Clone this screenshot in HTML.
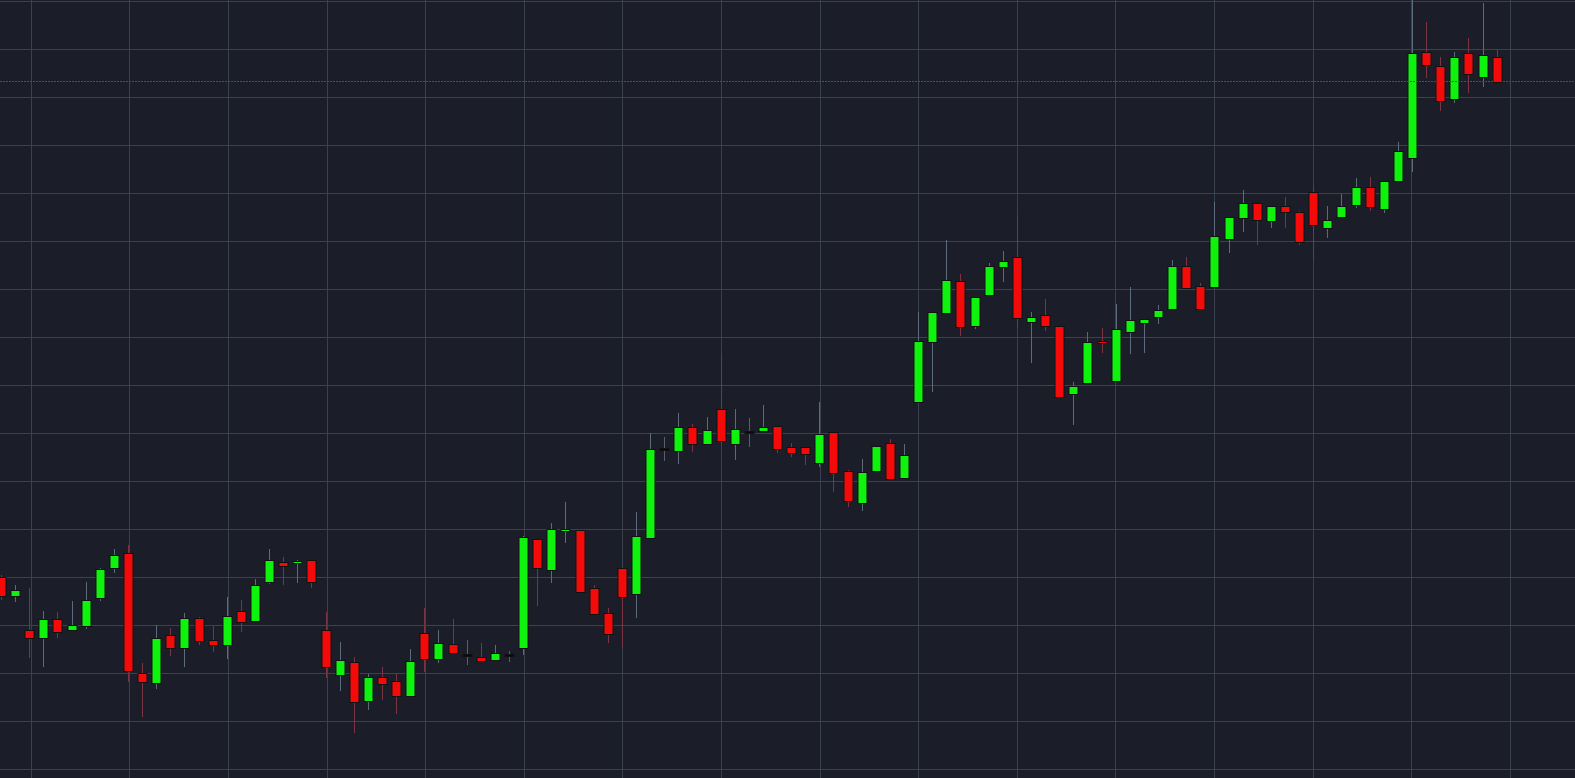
<!DOCTYPE html>
<html><head><meta charset="utf-8"><style>
html,body{margin:0;padding:0;background:#1b1d29;overflow:hidden}
svg{display:block}
</style></head><body>
<svg id="chart" width="1575" height="778" xmlns="http://www.w3.org/2000/svg">
<rect x="0" y="0" width="1575" height="778" fill="#1b1d29"/>
<g id="grid"></g>
<g id="candles"></g>
<line id="lastline" stroke="#d01818" stroke-width="1" stroke-dasharray="2,1"/>
</svg>
<script>
const opens  = [222,204,169,162,180,170,174,202,232,246,126,117,164,152,181,159,155,188,179,218,237,237,239,169,125,137,99,122,118,104,166,141,155,145,142,140,145,152,260,230,269,269,211,186,231,206,262,351,349,372,356,390,356,368,369,373,352,352,337,367,328,297,329,356,322,398,458,487,518,474,505,533,542,478,484,473,406,417,458,419,468,477,483,491,533,513,513,561,582,596,579,593,587,607,572,583,595,612,591,619,642,747,733,701,746,723,742];
const highs  = [225,215,212,189,188,199,218,232,251,255,137,175,172,187,183,174,203,200,221,251,243,240,239,188,158,143,126,133,127,151,192,170,181,160,157,155,149,264,260,277,298,269,215,192,233,288,367,363,387,376,383,445,391,382,395,373,357,352,398,367,330,341,354,361,356,488,487,560,526,502,537,549,585,488,501,473,418,468,472,496,513,480,495,540,543,517,598,582,610,596,593,603,589,613,594,606,622,623,618,658,800,778,743,748,762,797,750];
const lows   = [200,198,142,133,162,170,171,199,227,118,83,111,144,133,155,148,141,168,179,216,215,217,212,122,109,67,90,100,86,104,128,137,147,135,139,140,138,145,194,217,257,208,186,157,152,182,262,339,336,348,356,355,340,353,369,347,343,335,333,308,293,289,329,321,322,398,408,487,464,471,505,518,472,437,469,403,375,417,447,419,446,447,476,491,512,491,513,547,568,555,572,572,555,540,562,583,592,589,587,619,628,722,689,697,707,713,718];
const closes = [204,209,162,180,168,174,199,230,244,129,118,161,152,181,159,155,183,178,214,239,234,238,218,133,139,98,122,116,104,138,141,156,147,145,139,146,145,262,232,270,270,208,186,166,203,263,350,351,372,356,369,359,370,368,372,351,347,346,365,327,299,327,353,321,344,458,487,519,473,502,533,538,482,482,474,403,413,457,457,470,479,480,489,533,512,491,563,582,596,580,593,588,558,575,579,593,612,593,618,648,746,735,699,742,726,744,718];
const lastPrice = 719;

const NS='http://www.w3.org/2000/svg';
function xScale(i){return 1 + 14.11*i;}
function yScale(p){return 800 - p;}

const grid=document.getElementById('grid');
for(let k=0;k<16;k++){
  const x=Math.round(30.8+98.6*k)+0.5;
  const l=document.createElementNS(NS,'line');
  
  
  l.setAttribute('x1',x);l.setAttribute('x2',x);l.setAttribute('y1',0);l.setAttribute('y2',778);
  l.setAttribute('stroke','#3c4150');l.setAttribute('stroke-width','1');
  grid.appendChild(l);
}
for(let k=0;k<17;k++){
  const y=Math.round(1.3+48*k)+0.5;
  const l=document.createElementNS(NS,'line');
  
  
  l.setAttribute('x1',0);l.setAttribute('x2',1575);l.setAttribute('y1',y);l.setAttribute('y2',y);
  l.setAttribute('stroke','#3c4150');l.setAttribute('stroke-width','1');
  grid.appendChild(l);
}

const g=document.getElementById('candles');
for(let i=0;i<opens.length;i++){
  const o=opens[i],h=highs[i],lo=lows[i],c=closes[i];
  const cx=Math.round(xScale(i))+0.5;
  const up=c>o, doji=c===o;
  const w=document.createElementNS(NS,'line');
  
  
  w.setAttribute('x1',cx);w.setAttribute('x2',cx);
  w.setAttribute('y1',yScale(h));w.setAttribute('y2',yScale(lo));
  w.setAttribute('stroke',doji?'#556070':(up?'#5a6c7c':'#7a3444'));
  w.setAttribute('stroke-width','1');
  g.appendChild(w);
  const top=yScale(Math.max(o,c)), bot=yScale(Math.min(o,c));
  const r=document.createElementNS(NS,'rect');
  
  
  r.setAttribute('x',cx-4.5);r.setAttribute('width',9);
  r.setAttribute('y',top-0.5);r.setAttribute('height',Math.max(bot-top,1)+1);
  r.setAttribute('fill',doji?'#0a0a0a':(up?'#0ef20e':'#f50a0a'));
  r.setAttribute('stroke','#111111');r.setAttribute('stroke-width','1');
  g.appendChild(r);
}
const ll=document.getElementById('lastline');
ll.setAttribute('x1',0);ll.setAttribute('x2',1575);
ll.setAttribute('y1',yScale(lastPrice)+0.5);ll.setAttribute('y2',yScale(lastPrice)+0.5);
</script>
</body></html>
